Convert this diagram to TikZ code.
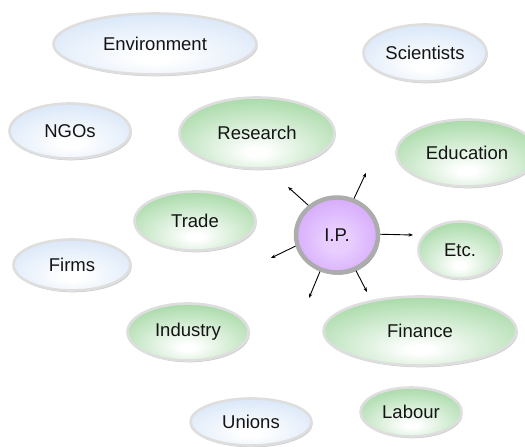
\documentclass[tikz,border=0pt]{standalone}
\usepackage{fontspec}
\setmainfont{Liberation Sans}
\usetikzlibrary{shapes.geometric,shadows,arrows.meta}
\definecolor{grn}{RGB}{138,205,138}
\definecolor{blu}{RGB}{200,220,245}
\definecolor{lav}{RGB}{198,140,248}
\definecolor{lavc}{RGB}{232,205,255}
\definecolor{ringgray}{RGB}{222,222,222}
\definecolor{ipring}{RGB}{172,172,172}
\definecolor{txt}{RGB}{20,20,20}
\pgfdeclareradialshading{greenball}{\pgfpoint{0bp}{-14bp}}{color(0bp)=(white); color(3bp)=(white); color(44bp)=(grn); color(80bp)=(grn)}
\pgfdeclareradialshading{blueball}{\pgfpoint{0bp}{-12bp}}{color(0bp)=(white); color(4bp)=(white); color(46bp)=(blu); color(80bp)=(blu)}
\pgfdeclareradialshading{lavball}{\pgfpoint{0bp}{-4bp}}{color(0bp)=(lavc); color(8bp)=(lavc); color(46bp)=(lav); color(80bp)=(lav)}
\tikzset{
  bubble/.style={ellipse, inner sep=0pt, line width=2.6pt, draw=ringgray,
    font=\fontsize{18.5}{20}\selectfont, text=txt,
    drop shadow={shadow xshift=1.2pt, shadow yshift=-1.8pt, opacity=0.2, fill=black}},
  greenb/.style={bubble, shading=greenball},
  blueb/.style={bubble, shading=blueball},
  ipb/.style={ellipse, inner sep=0pt, line width=4.5pt, draw=ipring, shading=lavball,
    font=\fontsize{18.5}{20}\selectfont, text=txt,
    drop shadow={shadow xshift=1.6pt, shadow yshift=-2.2pt, opacity=0.4, fill=black}},
  ray/.style={line width=0.9pt, -{Stealth[length=4.5pt,width=3.5pt]}}
}
\begin{document}
\begin{tikzpicture}[x=1pt,y=-1pt]
\useasboundingbox (0,0) rectangle (525,447);
\node[blueb, minimum width=203pt, minimum height=61pt] (env) at (155,44) {Environment};
\node[blueb, minimum width=123pt, minimum height=57pt] (sci) at (425,53) {Scientists};
\node[blueb, minimum width=121pt, minimum height=55pt] (ngo) at (70,131) {NGOs};
\node[greenb, minimum width=155pt, minimum height=71pt] (res) at (257,133) {Research};
\node[greenb, minimum width=141pt, minimum height=67pt] (edu) at (467,153) {Education};
\node[greenb, minimum width=121pt, minimum height=59pt] (trd) at (195,221) {Trade};
\node[blueb, minimum width=117pt, minimum height=51pt] (frm) at (72,265) {Firms};
\node[greenb, minimum width=83pt, minimum height=57pt] (etc) at (460,250) {Etc.};
\node[greenb, minimum width=121pt, minimum height=57pt] (ind) at (188,332) {Industry};
\node[greenb, minimum width=193pt, minimum height=69pt] (fin) at (420,331) {Finance};
\node[blueb, minimum width=121pt, minimum height=47pt] (uni) at (251,422) {Unions};
\node[greenb, minimum width=101pt, minimum height=49pt] (lab) at (411,412) {Labour};
\node[ipb, minimum width=82pt, minimum height=75pt] (ip) at (337,235) {I.P.};
\coordinate (a1) at (288,187);
\coordinate (a2) at (366,173);
\coordinate (a3) at (413,235);
\coordinate (a4) at (271,258);
\coordinate (a5) at (309,298);
\coordinate (a6) at (367,292);
\draw[ray] (ip.134) -- (a1);
\draw[ray] (ip.65) -- (a2);
\draw[ray] (ip.1) -- (a3);
\draw[ray] (ip.195) -- (a4);
\draw[ray] (ip.245) -- (a5);
\draw[ray] (ip.298) -- (a6);
\end{tikzpicture}
\end{document}
